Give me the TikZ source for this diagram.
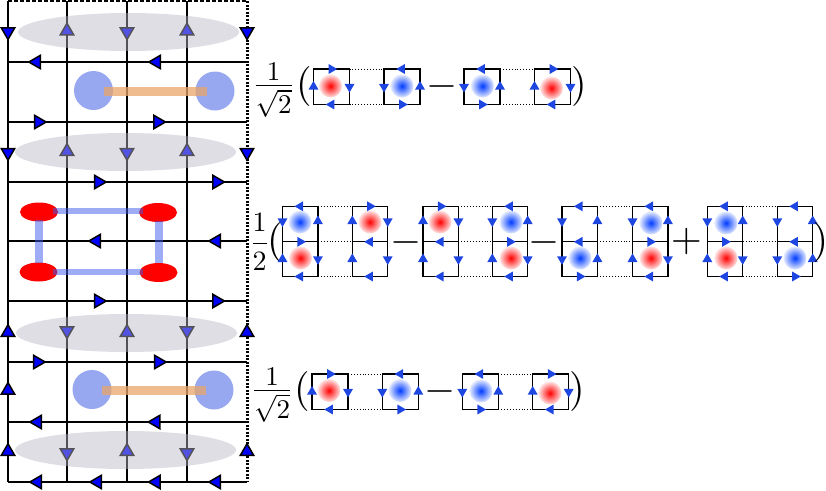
\documentclass[tikz,border=0pt]{standalone}
\usepackage{amsmath}
\usepackage{tikz}
\usetikzlibrary{shapes.geometric}
\definecolor{tipblue}{RGB}{30,70,225}
\definecolor{blobcore}{RGB}{0,60,255}
\definecolor{discblue}{RGB}{152,168,240}
\definecolor{barblue}{RGB}{60,90,235}
\definecolor{bandgray}{RGB}{182,182,196}
\definecolor{linkorange}{RGB}{232,165,105}
\tikzset{
    latt/.style={line width=1.4pt},
    tipbig/.style={regular polygon,regular polygon sides=3,draw=black,line width=1.5pt,fill=blue,minimum size=15.5pt,inner sep=0pt},
    tipsmall/.style={regular polygon,regular polygon sides=3,fill=tipblue,minimum size=11.5pt,inner sep=0pt},
    dirU/.style={rotate=0},
    dirD/.style={rotate=180},
    dirL/.style={rotate=90},
    dirR/.style={rotate=270},
    band/.style={ellipse,fill=bandgray,opacity=.45,minimum width=221pt,minimum height=38pt,inner sep=0pt},
    disc/.style={circle,fill=discblue,minimum size=39pt,inner sep=0pt},
    redspot/.style={ellipse,fill=red,minimum width=38pt,minimum height=19pt,inner sep=0pt},
    plaq/.style={line width=1.2pt,line join=miter},
    hop/.style={line width=.9pt,dotted},
    blobred/.style={circle,minimum size=23pt,inner sep=0pt,inner color=red,outer color=red!10},
    blobblue/.style={circle,minimum size=23pt,inner sep=0pt,inner color=blobcore,outer color=blobcore!10},
    big/.style={inner sep=0pt,scale=2.7},
    half/.style={inner sep=0pt,scale=2.8},
    delim/.style={inner sep=0pt,scale=4}}
% the prefactor of the outer rows, with the 1 close to the bar
\newcommand{\onesqrt}{$\dfrac{\raisebox{-2.3pt}[\height][0pt]{$1$}}{\sqrt{2}}$}
% one square: name, x, y, then the tips of top, left, right, bottom
\newcommand{\cellbox}[7]{
    \coordinate (#1nw) at (#2,#3);
    \coordinate (#1ne) at (#2+36,#3);
    \coordinate (#1se) at (#2+36,#3+35.5);
    \coordinate (#1sw) at (#2,#3+35.5);
    \draw[plaq] (#1nw) -- node[tipsmall,dir#4] (#1t) {} (#1ne)
        -- node[tipsmall,dir#6] (#1r) {} (#1se)
        -- node[tipsmall,dir#7] (#1b) {} (#1sw)
        -- node[tipsmall,dir#5] (#1l) {} cycle;
}
% two squares on top of each other: name, x, then the tips from top to bottom
\newcommand{\cellpair}[9]{
    \coordinate (#1nw) at (#2,206.3);
    \coordinate (#1ne) at (#2+35.4,206.3);
    \coordinate (#1w) at (#2,241.8);
    \coordinate (#1e) at (#2+35.4,241.8);
    \coordinate (#1sw) at (#2,276.5);
    \coordinate (#1se) at (#2+35.4,276.5);
    \draw[plaq] (#1nw) -- node[tipsmall,dir#3] (#1t) {} (#1ne)
        -- node[tipsmall,dir#5,pos=.42] (#1ru) {} (#1e)
        -- node[tipsmall,dir#8] (#1rl) {} (#1se)
        -- node[tipsmall,dir#9] (#1b) {} (#1sw)
        -- node[tipsmall,dir#7] (#1ll) {} (#1w)
        -- node[tipsmall,dir#4,pos=.58] (#1lu) {} cycle;
    \draw[plaq] (#1w) -- node[tipsmall,dir#6] (#1m) {} (#1e);
}
\begin{document}
\begin{tikzpicture}[x=1pt,y=-1pt]
    \useasboundingbox (0,0) rectangle (826,490);

    % lattice
    \foreach \x/\n in {8/a,67/b,127/c,187/d}{
        \coordinate (top\n) at (\x,1);
        \coordinate (bot\n) at (\x,482);
        \draw[latt] (top\n) -- (bot\n);
    }
    \foreach \y/\n in {62/a,122/b,182/c,241/d,301/e,362/f,422/g,482/h}{
        \coordinate (west\n) at (8,\y);
        \coordinate (east\n) at (247,\y);
        \draw[latt] (west\n) -- (east\n);
    }
    \coordinate (tope) at (247,1);
    \coordinate (bote) at (247,482);
    \draw[line width=1.5pt,dash pattern=on 4pt off 2pt] (topa) -- (tope);
    \draw[line width=3pt,dash pattern=on 2pt off 1.5pt] (tope) -- (bote);

    % tips
    \foreach \x/\y/\r [count=\k] in {8/31.7/180,67/31/0,127/31.7/180,187/31/0,247/31.7/180,
        8/152.4/180,67/151.5/0,127/152.4/180,187/151.5/0,247/152.4/180,
        8/332.5/0,67/330.7/180,127/332.5/0,187/330.7/180,247/332.5/0,
        8/390.3/0,
        8/451.5/0,67/452.7/180,127/451.5/0,187/452.7/180,247/451.5/0,
        36.6/62/90,156.6/62/90,38.4/122/270,157.7/122/270,
        98.4/182/270,216.7/182/270,96.6/241/90,216.6/241/90,98.4/301/270,216.7/301/270,
        37.4/362/270,158.4/362/270,37.6/422/90,156/422/90,
        37.6/482/90,97.6/482/90,156.3/482/90,216.6/482/90}{
        \node[tipbig,rotate=\r] (tip\k) at (\x,\y) {};
    }

    % bands
    \node[band] (band1) at (128.5,32) {};
    \node[band] (band2) at (125.5,152) {};
    \node[band] (band3) at (126.5,333) {};
    \node[band] (band4) at (125.5,450) {};

    % singlets
    \node[disc] (disc1) at (93.5,90.5) {};
    \node[disc] (disc2) at (215,91) {};
    \node[disc] (disc3) at (92,389.5) {};
    \node[disc] (disc4) at (214,390) {};
    \fill[linkorange,opacity=.75] (104,87) rectangle (207,96);
    \fill[linkorange,opacity=.75] (102,386) rectangle (206,395);

    % ring
    \node[redspot] (spot1) at (39,212) {};
    \node[redspot] (spot2) at (158,212.5) {};
    \node[redspot] (spot3) at (38.5,272) {};
    \node[redspot] (spot4) at (158.5,272.5) {};
    \draw[barblue,opacity=.5,line width=6pt] (53,211) -- (143,211);
    \draw[barblue,opacity=.5,line width=6pt] (53,272) -- (143,272);
    \draw[barblue,opacity=.5,line width=8pt] (39,220) -- (39,263);
    \draw[barblue,opacity=.5,line width=8pt] (158.5,221) -- (158.5,263);

    % first row
    \node[big] (frac1) at (273.5,90.2) {\onesqrt};
    \node[delim] (open1) at (304,86) {$($};
    \node[blobred] (blob1a) at (330.5,86) {};
    \node[blobblue] (blob1b) at (402,86) {};
    \node[blobblue] (blob1c) at (482.5,86) {};
    \node[blobred] (blob1d) at (551.5,88) {};
    \cellbox{p1a}{313.5}{69}{R}{U}{D}{L}
    \cellbox{p1b}{384}{69}{L}{D}{U}{R}
    \cellbox{p1c}{464}{69}{L}{D}{U}{R}
    \cellbox{p1d}{534.5}{69}{R}{U}{D}{L}
    \draw[hop] (p1ane) -- (p1bnw);
    \draw[hop] (p1ase) -- (p1bsw);
    \draw[hop] (p1cne) -- (p1dnw);
    \draw[hop] (p1cse) -- (p1dsw);
    \node[delim] (minus1) at (442,86) {$-$};
    \node[delim] (close1) at (579,86) {$)$};

    % second row
    \node[half] (frac2) at (259.5,242) {$\dfrac{1}{2}$};
    \node[delim] (open2) at (275,242) {$($};
    \node[blobblue] (blob2a) at (300,222) {};
    \node[blobred] (blob2b) at (300.5,258) {};
    \node[blobred] (blob2c) at (370,222) {};
    \node[blobred] (blob2d) at (440,222) {};
    \node[blobblue] (blob2e) at (511,222) {};
    \node[blobred] (blob2f) at (511,258) {};
    \node[blobblue] (blob2g) at (580,258) {};
    \node[blobblue] (blob2h) at (651,223) {};
    \node[blobred] (blob2i) at (651,258) {};
    \node[blobblue] (blob2j) at (726,223) {};
    \node[blobred] (blob2k) at (726,258) {};
    \node[blobblue] (blob2l) at (795,258) {};
    \cellpair{q1}{282.5}{L}{D}{U}{R}{U}{D}{L}
    \cellpair{q2}{352.3}{R}{U}{D}{L}{U}{D}{L}
    \cellpair{q3}{423}{R}{U}{D}{L}{U}{D}{L}
    \cellpair{q4}{492.3}{L}{D}{U}{R}{U}{D}{L}
    \cellpair{q5}{562}{L}{D}{U}{L}{D}{U}{R}
    \cellpair{q6}{632.5}{L}{D}{U}{R}{U}{D}{L}
    \cellpair{q7}{707.3}{L}{D}{U}{R}{U}{D}{L}
    \cellpair{q8}{777.3}{L}{D}{U}{L}{D}{U}{R}
    \foreach \i/\j in {1/2,3/4,5/6,7/8}{
        \draw[hop] (q\i ne) -- (q\j nw);
        \draw[hop] (q\i e) -- (q\j w);
        \draw[hop] (q\i se) -- (q\j sw);
    }
    \node[delim] (minus2) at (406,242) {$-$};
    \node[delim] (minus3) at (544,242) {$-$};
    \node[delim] (plus1) at (686.5,241) {$+$};
    \node[delim] (close2) at (820.5,242) {$)$};

    % third row
    \node[big] (frac3) at (272,394.9) {\onesqrt};
    \node[delim] (open3) at (302,391) {$($};
    \node[blobred] (blob3a) at (329,390.5) {};
    \node[blobblue] (blob3b) at (400,390.5) {};
    \node[blobblue] (blob3c) at (481,391) {};
    \node[blobred] (blob3d) at (550,393) {};
    \cellbox{p3a}{312}{374}{R}{U}{D}{L}
    \cellbox{p3b}{382.3}{374}{L}{D}{U}{R}
    \cellbox{p3c}{462.3}{374}{L}{D}{U}{R}
    \cellbox{p3d}{532.7}{374}{R}{U}{D}{L}
    \draw[hop] (p3ane) -- (p3bnw);
    \draw[hop] (p3ase) -- (p3bsw);
    \draw[hop] (p3cne) -- (p3dnw);
    \draw[hop] (p3cse) -- (p3dsw);
    \node[delim] (minus4) at (440.5,391) {$-$};
    \node[delim] (close3) at (577,391) {$)$};
\end{tikzpicture}
\end{document}
